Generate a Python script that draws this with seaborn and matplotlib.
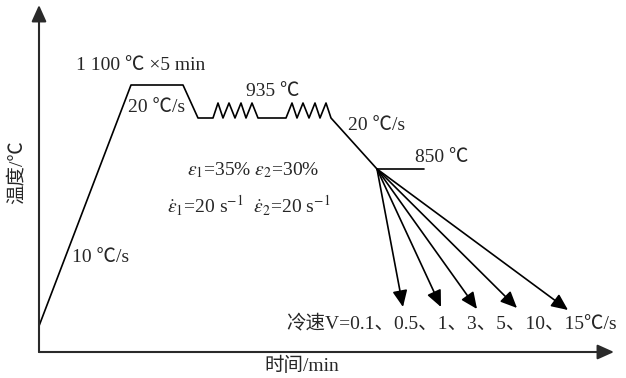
import matplotlib
matplotlib.use("Agg")
import matplotlib.pyplot as plt
import seaborn as sns
import pandas as pd

sns.set_theme(style="white")
plt.rcParams["font.family"] = ["Liberation Serif", "Noto Sans CJK SC"]
plt.rcParams["mathtext.fontset"] = "stix"

# Schematic process path: time (x) and temperature (y) in drawing units
path_time = [39, 131, 183, 198, 213, 218, 223, 229, 235, 241, 246, 252, 258,
             286, 292, 297, 303, 309, 315, 320, 326, 331, 377]
path_temp = [52, 293, 293, 260, 260, 275, 260, 275, 260, 275, 260, 275, 260,
             260, 275, 260, 275, 260, 275, 260, 275, 260, 209]

# 850 °C reference mark
hold_time = [377, 424]
hold_temp = [209, 209]

# Cooling branches (one per cooling rate)
cool_rates = ["0.1", "0.5", "1", "3", "5", "10", "15"]
cool_start = (377, 209)
cool_end_time = [403, 441, 477, 517, 568]
cool_end_temp = [71, 71, 69, 70, 68]

# Axes origin and ends
origin = (39, 26)
x_axis_end = 614
y_axis_end = 373

fig = plt.figure(figsize=(6.26, 3.78), dpi=100)
ax = fig.add_axes([0, 0, 1, 1])
ax.set_xlim(0, 626)
ax.set_ylim(0, 378)
ax.axis("off")

line_kw = dict(color="black", linewidth=1.2)

path_df = pd.DataFrame({"t": path_time, "T": path_temp})
sns.lineplot(data=path_df, x="t", y="T", sort=False, estimator=None, ax=ax, **line_kw)
sns.lineplot(x=hold_time, y=hold_temp, sort=False, estimator=None, ax=ax, **line_kw)

arrow_kw = dict(arrowstyle="-|>,head_length=10,head_width=4.5", color="black",
                lw=1.2, shrinkA=0, shrinkB=0, mutation_scale=1)
for xt, yt in zip(cool_end_time, cool_end_temp):
    ax.annotate("", xy=(xt, yt), xytext=cool_start, arrowprops=arrow_kw)

axis_kw = dict(arrowstyle="-|>,head_length=10,head_width=4.5", color="#2a2a2a",
               lw=1.5, shrinkA=0, shrinkB=0, mutation_scale=1)
ax.annotate("", xy=(x_axis_end, origin[1]), xytext=origin, arrowprops=axis_kw)
ax.annotate("", xy=(origin[0], y_axis_end), xytext=origin, arrowprops=axis_kw)

fs = 14
ax.text(141, 313, "1 100 ℃ ×5 min", fontsize=fs, ha="center", va="center")
ax.text(157, 270, "20 ℃/s", fontsize=fs, ha="center", va="center")
ax.text(273, 287, "935 ℃", fontsize=fs, ha="center", va="center")
ax.text(377, 252, "20 ℃/s", fontsize=fs, ha="center", va="center")
ax.text(442, 221, "850 ℃", fontsize=fs, ha="center", va="center")
ax.text(101, 120, "10 ℃/s", fontsize=fs, ha="center", va="center")
ax.text(253, 208, r"$\varepsilon_{1}$=35% $\varepsilon_{2}$=30%",
        fontsize=fs, ha="center", va="center")
ax.text(249, 172, r"$\dot{\varepsilon}_{1}$=20 s$^{-1}$  $\dot{\varepsilon}_{2}$=20 s$^{-1}$",
        fontsize=fs, ha="center", va="center")
ax.text(452, 55, "冷速V=" + "、".join(cool_rates) + "℃/s",
        fontsize=fs, ha="center", va="center")
ax.text(302, 12, "时间/min", fontsize=fs, ha="center", va="center")
ax.text(17, 206, "温度/℃", fontsize=fs, ha="center", va="center", rotation=90)

fig.savefig("out.png", dpi=100, facecolor="white")
